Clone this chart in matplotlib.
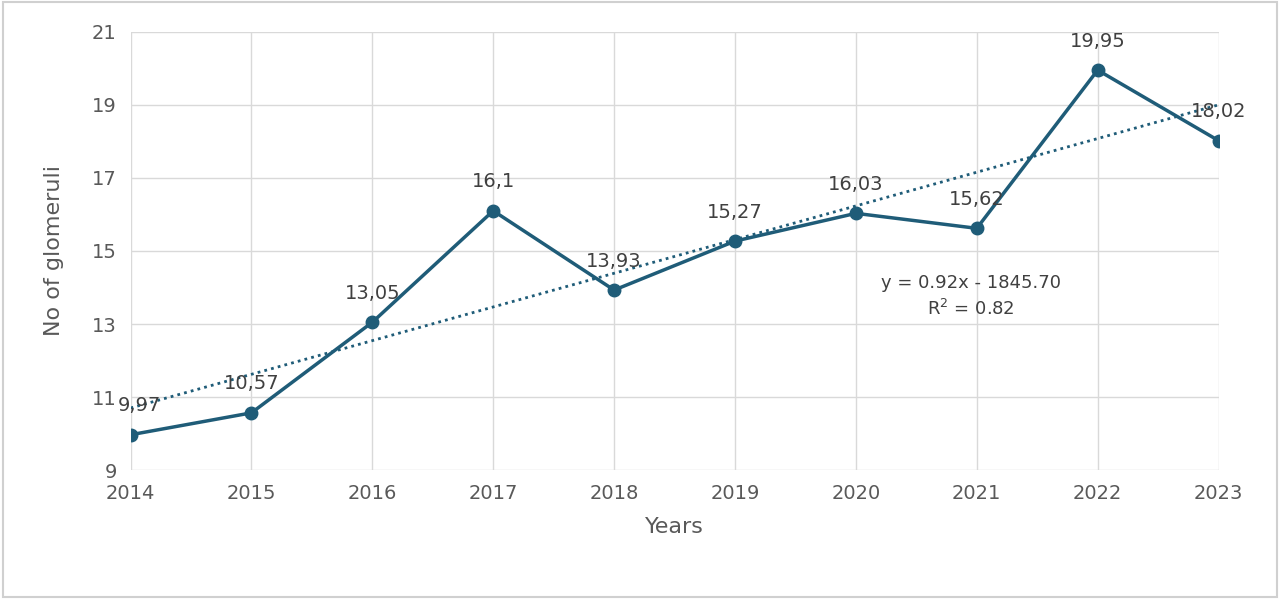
import numpy as np
import matplotlib.pyplot as plt

years = [2014, 2015, 2016, 2017, 2018, 2019, 2020, 2021, 2022, 2023]
glomeruli = [9.97, 10.57, 13.05, 16.1, 13.93, 15.27, 16.03, 15.62, 19.95, 18.02]
labels = ["9,97", "10,57", "13,05", "16,1", "13,93", "15,27", "16,03", "15,62", "19,95", "18,02"]

color = "#1f5c78"
fig = plt.figure(figsize=(12.8, 5.99), dpi=100)
ax = fig.add_axes([0.102, 0.215, 0.850, 0.732])

ax.plot(years, glomeruli, color=color, lw=2.5, marker="o", ms=9, zorder=3)
k, b = np.polyfit(years, glomeruli, 1)
xs = np.array([years[0], years[-1]])
ax.plot(xs, k * xs + b, color=color, lw=2, ls=(0, (1, 1.5)), zorder=2)

for x, y, t in zip(years, glomeruli, labels):
    dx = 6 if x == years[0] else 0
    ax.annotate(t, (x, y), xytext=(dx, 14), textcoords="offset points",
                ha="center", va="bottom", fontsize=14, color="#404040")

ax.text(2020.95, 13.75, "y = 0.92x - 1845.70\nR$^2$ = 0.82", ha="center", va="center",
        fontsize=13, color="#404040", linespacing=1.4)

ax.set_xlim(2014, 2023)
ax.set_ylim(9, 21)
ax.set_xticks(years)
ax.set_yticks(range(9, 22, 2))
ax.grid(True, color="#d9d9d9", lw=1)
ax.set_axisbelow(True)
for s in ax.spines.values():
    s.set_visible(False)
ax.tick_params(length=0, labelsize=14, labelcolor="#595959", pad=10)
ax.set_xlabel("Years", fontsize=16, color="#595959", labelpad=10)
ax.set_ylabel("No of glomeruli", fontsize=16, color="#595959", labelpad=20)

fig.patches.append(plt.Rectangle((0.002, 0.003), 0.996, 0.994, transform=fig.transFigure,
                                 fill=False, ec="#d0d0d0", lw=1.5))
fig.savefig("out.png", dpi=100)
